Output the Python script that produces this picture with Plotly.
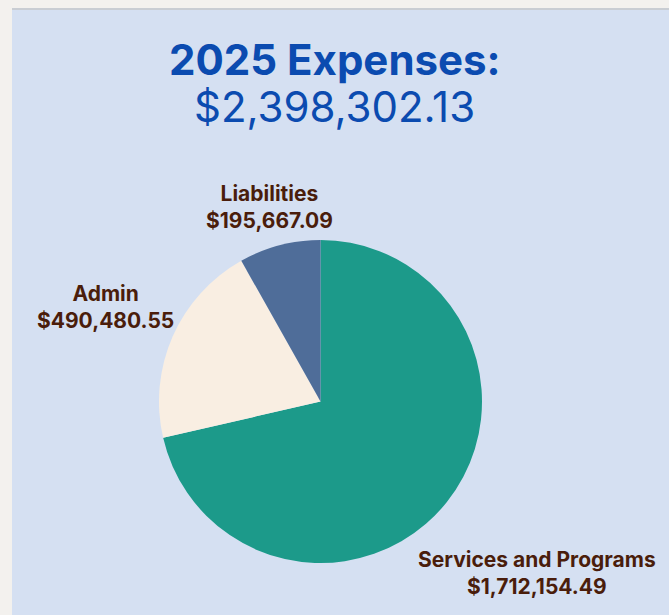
import math
import plotly.graph_objects as go

categories = ["Services and Programs", "Admin", "Liabilities"]
values = [1712154.49, 490480.55, 195667.09]
value_labels = ["$1,712,154.49", "$490,480.55", "$195,667.09"]
colors = ["#1c9a8a", "#f9eee2", "#4f6d99"]
title_main = "2025 Expenses:"
title_total = "$2,398,302.13"

W, H = 669, 615
cx, cy, r = 320.5, 401.5, 161.5
label_fs = 21
label_color = "#4a1d0b"

fig = go.Figure()
fig.add_trace(go.Pie(
    labels=categories,
    values=values,
    customdata=value_labels,
    sort=False,
    direction="clockwise",
    rotation=0,
    marker=dict(colors=colors, line=dict(width=0)),
    textinfo="none",
    hovertemplate="%{label}<br>%{customdata}<extra></extra>",
    showlegend=False,
    domain=dict(x=[(cx - r) / W, (cx + r) / W],
                y=[(H - cy - r) / H, (H - cy + r) / H]),
))

# outside labels placed along each slice's mid-angle (derived from the data)
annotations = []
total = sum(values)
cum = 0.0
for name, val, vlab in zip(categories, values, value_labels):
    mid = (cum + val / 2) / total * 2 * math.pi  # clockwise from 12 o'clock
    cum += val
    ux, uy = math.sin(mid), -math.cos(mid)  # screen coords (y down)
    w = max(len(name), len(vlab)) * 0.56 * label_fs
    d = r + 8 + abs(ux) * w / 2 + abs(uy) * 16
    px, py = cx + ux * d, cy + uy * d
    annotations.append(dict(
        text=f"<b>{name}</b><br><b>{vlab}</b>",
        x=px / W, y=1 - py / H, xref="paper", yref="paper",
        showarrow=False, xanchor="center", yanchor="middle", align="center",
        font=dict(family="Inter", size=label_fs, color=label_color),
    ))

annotations += [
    dict(text="<b>" + title_main + "</b>", x=0.5, y=1 - 60 / H, xref="paper", yref="paper",
         showarrow=False, font=dict(family="Inter", size=42, color="#0b4bb0"),
         xanchor="center", yanchor="middle"),
    dict(text=title_total, x=0.5, y=1 - 107 / H, xref="paper", yref="paper",
         showarrow=False, font=dict(family="Inter", size=42, color="#0b4bb0"),
         xanchor="center", yanchor="middle"),
]

fig.update_layout(
    width=W, height=H,
    margin=dict(l=0, r=0, t=0, b=0),
    paper_bgcolor="#f3f1ee",
    shapes=[
        dict(type="rect", xref="paper", yref="paper", x0=12 / W, x1=1, y0=0, y1=1 - 10 / H,
             fillcolor="#d5e0f2", line=dict(width=0), layer="below"),
        dict(type="line", xref="paper", yref="paper", x0=12 / W, x1=1, y0=1 - 9 / H, y1=1 - 9 / H,
             line=dict(color="#c9cdd3", width=2), layer="below"),
    ],
    annotations=annotations,
)

fig.write_html("out.html", config={"displayModeBar": False},
               post_script="document.body.style.margin='0';document.body.style.overflow='hidden';")
